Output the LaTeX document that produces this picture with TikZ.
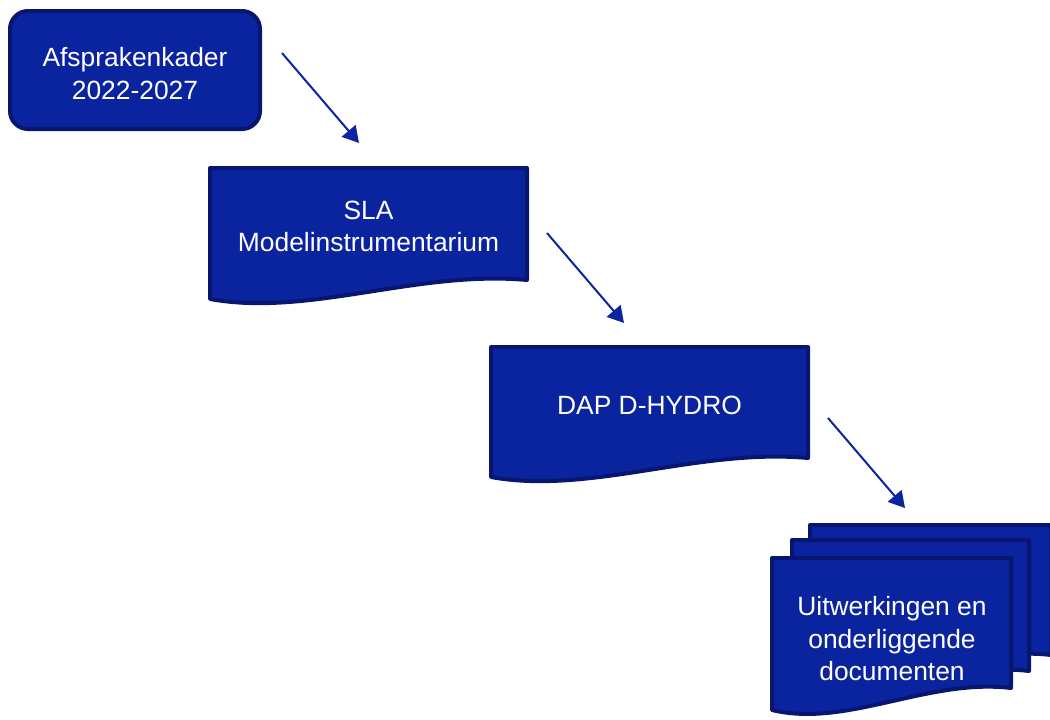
\documentclass[tikz,border=0pt]{standalone}
\usepackage{fontspec}
\setmainfont{Liberation Sans}
\usetikzlibrary{arrows.meta}
\definecolor{boxfill}{RGB}{10,36,160}
\definecolor{boxline}{RGB}{8,22,112}
\definecolor{arrowcol}{RGB}{12,36,160}
\newcommand{\mydocshape}[5]{%
  \draw[shapebox] (#1,#2) -- ({#1+#3},#2) -- ({#1+#3},{#2+#4})
    .. controls ({#1+0.654*#3},{#2+#4-10}) and ({#1+0.311*#3},{#2+#5+18}) .. (#1,{#2+#5}) -- cycle;}
\begin{document}
\begin{tikzpicture}[x=1pt,y=-1pt,
  shapebox/.style={fill=boxfill,draw=boxline,line width=4pt,line join=round},
  boxtext/.style={text=white,font=\fontsize{26.4}{32.5}\selectfont,align=center,inner sep=0pt},
  arr/.style={draw=arrowcol,line width=2pt,-{Triangle[length=16pt,width=18pt]}}]
\useasboundingbox (0,0) rectangle (1050,720);
\clip (0,0) rectangle (1050,720);
% rounded box
\draw[shapebox,rounded corners=18pt] (10,11) rectangle (260,129);
% documents
\mydocshape{210}{168}{317}{112}{131}
\mydocshape{491}{347}{317}{111}{130}
% multi-document
\mydocshape{810}{525}{241}{130}{152}
\mydocshape{792}{540}{237}{131}{152}
\mydocshape{772}{558}{239}{130}{152}
% texts
\node[boxtext] (afspraken) at (135,73.5) {Afsprakenkader\\2022-2027};
\node[boxtext] (sla) at (368.5,226.5) {SLA\\Modelinstrumentarium};
\node[boxtext] (dap) at (649.5,405) {DAP D-HYDRO};
\node[boxtext] (uitw) at (892,639) {Uitwerkingen en\\onderliggende\\documenten};
% arrows
\coordinate (a1s) at (282,53);
\coordinate (a1e) at (359,143);
\coordinate (a2s) at (547,233);
\coordinate (a2e) at (624,323);
\coordinate (a3s) at (828,418);
\coordinate (a3e) at (905,508);
\draw[arr] (a1s) -- (a1e);
\draw[arr] (a2s) -- (a2e);
\draw[arr] (a3s) -- (a3e);
\end{tikzpicture}
\end{document}
